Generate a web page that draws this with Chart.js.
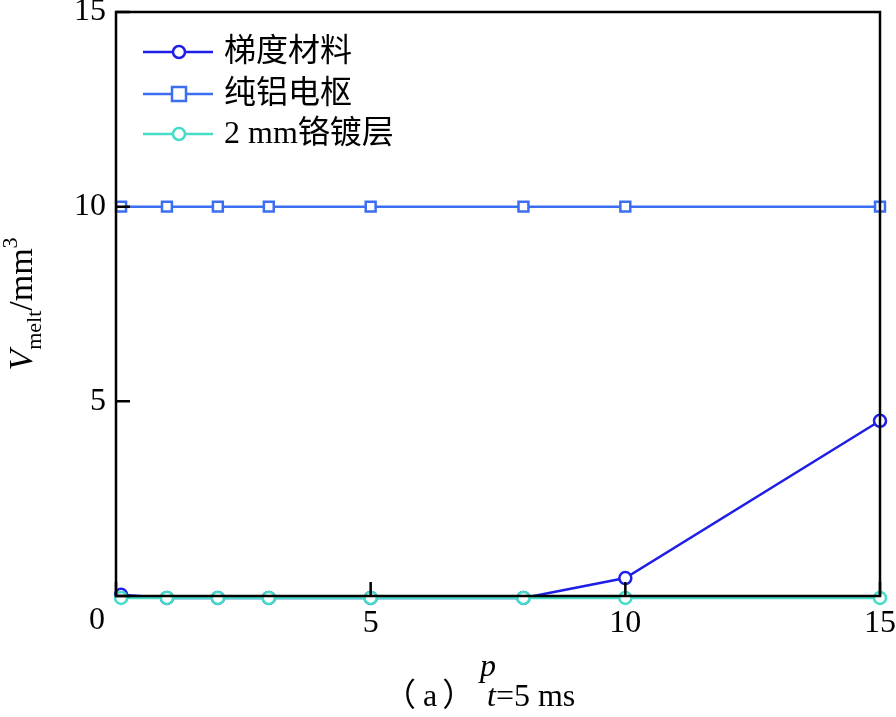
<!DOCTYPE html>
<html>
<head>
<meta charset="utf-8">
<script src="https://cdn.jsdelivr.net/npm/chart.js@4/dist/chart.umd.min.js"></script>
<style>
  body { margin: 0; background: #fff; }
</style>
</head>
<body>
<canvas id="chart" width="896" height="717"></canvas>
<script>
const xValues = [0.1, 1, 2, 3, 5, 8, 10, 15];
const gradientMaterial = [0.03, -0.05, -0.05, -0.05, -0.05, -0.05, 0.46, 4.5];
const pureAluminum = [10, 10, 10, 10, 10, 10, 10, 10];
const chromePlating = [-0.05, -0.05, -0.05, -0.05, -0.05, -0.05, -0.05, -0.05];
const seriesLabels = ["梯度材料", "纯铝电枢", "2 mm铬镀层"];
const seriesColors = ["#1e1ee6", "#3c6ef0", "#46dcc8"];
const pointStyles = ["circle", "rect", "circle"];
const xTicks = [0, 5, 10, 15];
const yTicks = [0, 5, 10, 15];

const serif = '"Liberation Serif", "Noto Sans CJK SC", serif';
const cjk = '"Noto Sans CJK SC", sans-serif';

function toPoints(ys) {
  return ys.map((y, i) => ({ x: xValues[i], y: y }));
}

const allSeries = [gradientMaterial, pureAluminum, chromePlating];
const datasets = allSeries.map((ys, i) => ({
  label: seriesLabels[i],
  data: toPoints(ys),
  borderColor: seriesColors[i],
  pointBorderColor: seriesColors[i],
  pointBackgroundColor: "#ffffff",
  pointStyle: pointStyles[i],
  pointRadius: i === 1 ? 7 : 6,
  pointBorderWidth: 2.5,
  borderWidth: 2.5,
  clip: false,
  order: i === 2 ? 0 : i + 1
}));

// box, inward ticks, titles and legend drawn on top of the data
const framePlugin = {
  id: "frame",
  afterDatasetsDraw(chart) {
    const { ctx, chartArea: a, scales } = chart;
    ctx.save();
    ctx.strokeStyle = "#000";
    ctx.lineWidth = 2.5;
    ctx.strokeRect(a.left, a.top, a.right - a.left, a.bottom - a.top);
    ctx.beginPath();
    xTicks.forEach(v => {
      const px = scales.x.getPixelForValue(v);
      ctx.moveTo(px, a.bottom);
      ctx.lineTo(px, a.bottom - 14);
    });
    yTicks.forEach(v => {
      const py = scales.y.getPixelForValue(v);
      ctx.moveTo(a.left, py);
      ctx.lineTo(a.left + 14, py);
    });
    ctx.stroke();
    ctx.restore();
  },
  afterDraw(chart) {
    const { ctx } = chart;
    ctx.save();
    ctx.fillStyle = "#000";

    // origin label
    ctx.font = "32px " + serif;
    ctx.textAlign = "center";
    ctx.textBaseline = "middle";
    ctx.fillText("0", 97, 621);

    // x title
    ctx.font = "italic 32px " + serif;
    ctx.textBaseline = "alphabetic";
    ctx.fillText("p", 488, 676);

    // caption
    const capY = 706;
    ctx.font = "32px " + cjk;
    ctx.textAlign = "right";
    ctx.fillText("（", 416, capY);
    ctx.textAlign = "left";
    ctx.font = "32px " + serif;
    ctx.fillText("a", 423, capY);
    const aw = ctx.measureText("a").width;
    ctx.font = "32px " + cjk;
    ctx.fillText("）", 428 + aw, capY);
    ctx.font = "italic 32px " + serif;
    ctx.fillText("t", 487, capY);
    const tw = ctx.measureText("t").width;
    ctx.font = "32px " + serif;
    ctx.fillText("=5 ms", 487 + tw, capY);

    // y title, rotated
    const yparts = [
      { t: "V", f: "italic 34px " + serif, dy: 0 },
      { t: "melt", f: "22px " + serif, dy: 9 },
      { t: "/mm", f: "34px " + serif, dy: 0 },
      { t: "3", f: "22px " + serif, dy: -15 }
    ];
    let total = 0;
    yparts.forEach(p => { ctx.font = p.f; p.w = ctx.measureText(p.t).width; total += p.w; });
    ctx.translate(32, 304);
    ctx.rotate(-Math.PI / 2);
    let cx = -total / 2;
    yparts.forEach(p => { ctx.font = p.f; ctx.fillText(p.t, cx, p.dy); cx += p.w; });
    ctx.restore();

    // legend
    ctx.save();
    const rows = [52, 94, 134];
    chart.data.datasets.forEach((ds, i) => {
      const y = rows[i];
      ctx.strokeStyle = ds.borderColor;
      ctx.lineWidth = 2.5;
      ctx.beginPath();
      ctx.moveTo(143, y);
      ctx.lineTo(213, y);
      ctx.stroke();
      ctx.fillStyle = "#fff";
      ctx.beginPath();
      if (ds.pointStyle === "rect") {
        ctx.rect(172, y - 7, 14, 14);
      } else {
        ctx.arc(179, y, 6, 0, Math.PI * 2);
      }
      ctx.fill();
      ctx.stroke();
      ctx.fillStyle = "#000";
      ctx.font = "32px " + serif;
      ctx.textAlign = "left";
      ctx.textBaseline = "middle";
      ctx.fillText(ds.label, 224, y + 1);
    });
    ctx.restore();
  }
};

const tickFont = { family: serif, size: 32, lineHeight: 1 };

new Chart(document.getElementById("chart").getContext("2d"), {
  type: "line",
  data: { datasets: datasets },
  options: {
    responsive: false,
    animation: false,
    layout: { padding: { top: 12, right: 16, left: 0, bottom: 0 } },
    plugins: { legend: { display: false }, tooltip: { enabled: false } },
    scales: {
      x: {
        type: "linear",
        min: 0,
        max: 15,
        afterBuildTicks: s => { s.ticks = xTicks.map(v => ({ value: v })); },
        ticks: {
          color: "#000",
          font: tickFont,
          padding: 12,
          callback: v => (v === 0 ? "" : v)
        },
        grid: { display: false, drawTicks: false },
        border: { display: false },
        afterFit: s => { s.height = 121; s.paddingLeft = 0; s.paddingRight = 0; }
      },
      y: {
        min: 0,
        max: 15,
        afterBuildTicks: s => { s.ticks = yTicks.map(v => ({ value: v })); },
        ticks: {
          color: "#000",
          font: tickFont,
          padding: 10,
          callback: v => (v === 0 ? "" : v)
        },
        grid: { display: false, drawTicks: false },
        border: { display: false },
        afterFit: s => { s.width = 116; s.paddingTop = 0; s.paddingBottom = 0; }
      }
    }
  },
  plugins: [framePlugin]
});
</script>
</body>
</html>
